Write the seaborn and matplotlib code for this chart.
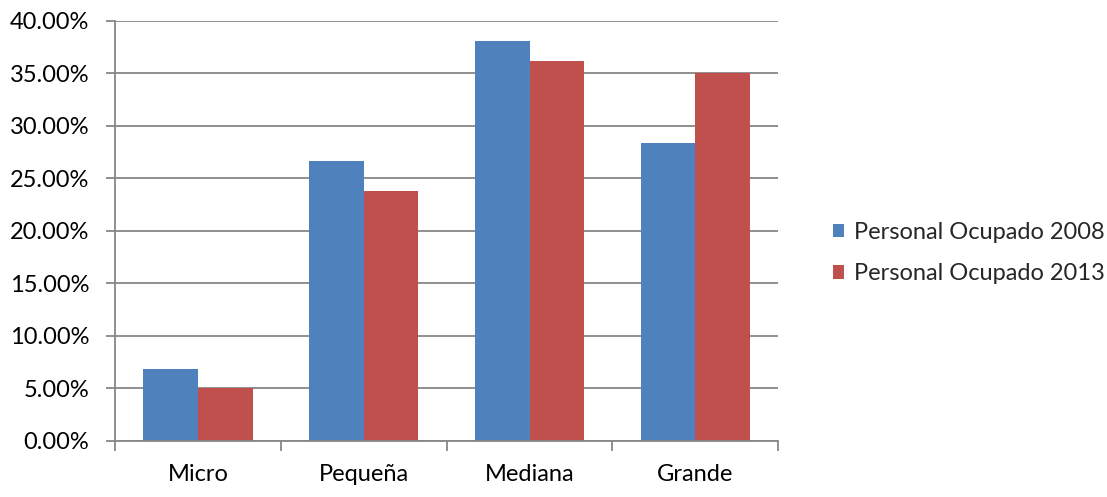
import matplotlib
matplotlib.use("Agg")
import matplotlib.pyplot as plt
import seaborn as sns
import pandas as pd
import numpy as np
from matplotlib.ticker import FuncFormatter, FixedLocator

categories = ["Micro", "Pequeña", "Mediana", "Grande"]
series_names = ["Personal Ocupado 2008", "Personal Ocupado 2013"]
values_2008 = [6.81, 26.69, 38.06, 28.41]
values_2013 = [5.00, 23.76, 36.18, 35.00]
colors = ["#4F81BD", "#C0504D"]

df = pd.DataFrame({
    "cat": categories * 2,
    "serie": [series_names[0]] * 4 + [series_names[1]] * 4,
    "val": values_2008 + values_2013,
})

sns.set_theme(style="white")
plt.rcParams["font.family"] = ["Lato", "DejaVu Sans"]

FS = 17

fig = plt.figure(figsize=(11.07, 4.97), dpi=100)
ax = fig.add_axes([0.104, 0.113, 0.599, 0.845])

sns.barplot(data=df, x="cat", y="val", hue="serie", palette=colors,
            width=0.66, gap=0, saturation=1, ax=ax, legend=True,
            edgecolor="none", linewidth=0)

ax.set_ylim(0, 40)
ax.set_xlim(-0.5, 3.5)
ax.set_yticks(np.arange(0, 40.01, 5))
ax.yaxis.set_major_formatter(FuncFormatter(lambda v, p: f"{v:.2f}%"))
ax.grid(axis="y", color="#878787", linewidth=1.3)
ax.set_axisbelow(True)
ax.set_xlabel("")
ax.set_ylabel("")

for s in ["top", "right"]:
    ax.spines[s].set_visible(False)
for s in ["left", "bottom"]:
    ax.spines[s].set_color("#878787")
    ax.spines[s].set_linewidth(1.3)

ax.tick_params(axis="y", which="major", length=6.5, width=1.3, color="#878787",
               direction="out", labelsize=FS, pad=12, left=True)
ax.tick_params(axis="x", which="major", length=0, labelsize=FS, pad=17)
ax.xaxis.set_minor_locator(FixedLocator([-0.5, 0.5, 1.5, 2.5, 3.5]))
ax.tick_params(axis="x", which="minor", length=7, width=1.3, color="#878787",
               direction="out", bottom=True)
for lbl in ax.get_xticklabels() + ax.get_yticklabels():
    lbl.set_color("black")

handles, labels = ax.get_legend_handles_labels()
ax.legend(handles, labels, loc="center left", bbox_to_anchor=(1.05, 0.447),
          frameon=False, fontsize=FS, handlelength=0.5, handleheight=0.5,
          handletextpad=0.4, labelspacing=0.87)

fig.savefig("out.png", dpi=100)
